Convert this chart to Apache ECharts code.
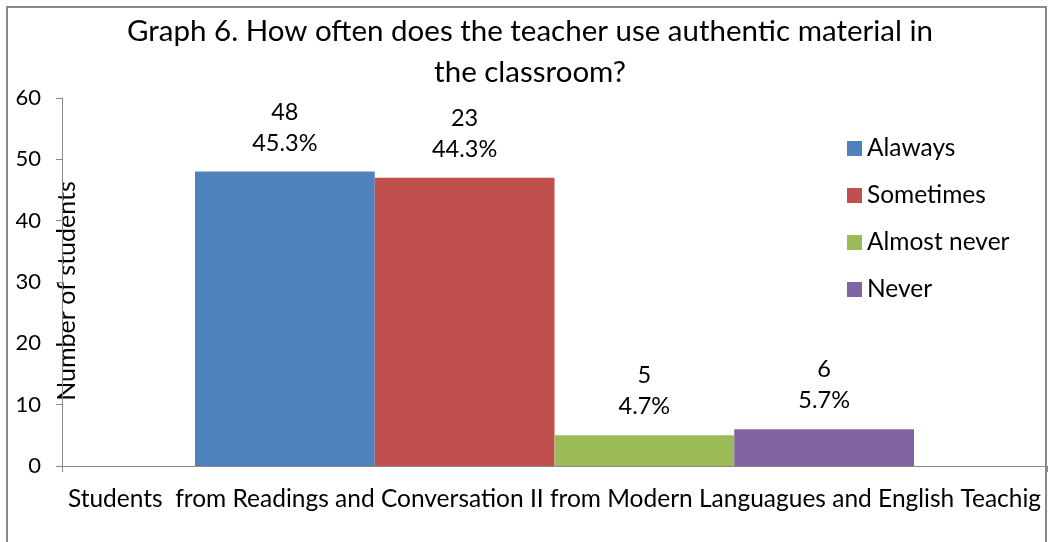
<!DOCTYPE html>
<html>
<head>
<meta charset="utf-8">
<script src="https://cdn.jsdelivr.net/npm/echarts@6/dist/echarts.min.js"></script>
<style>
html,body{margin:0;padding:0;background:#fff;}
#chart{width:1052px;height:542px;}
</style>
</head>
<body>
<div id="chart"></div>
<script>
const categories = ['Students  from Readings and Conversation II from Modern Languagues and English Teachig'];
const seriesNames = ['Alaways', 'Sometimes', 'Almost never', 'Never'];
const barValues = [48, 47, 5, 6];
const countLabels = ['48', '23', '5', '6'];
const percentLabels = ['45.3%', '44.3%', '4.7%', '5.7%'];
const colors = ['#4F81BD', '#C0504D', '#9BBB59', '#8064A2'];
const yTicks = { min: 0, max: 60, interval: 10 };

const FONT = 'Lato';
const chart = echarts.init(document.getElementById('chart'));

const series = seriesNames.map((name, i) => ({
  name: name,
  type: 'bar',
  data: [barValues[i]],
  barGap: '0%',
  barCategoryGap: '27%',
  itemStyle: { color: colors[i] },
  label: {
    show: true,
    position: 'top',
    distance: 13,
    formatter: () => countLabels[i] + '\n' + percentLabels[i],
    fontFamily: FONT,
    fontSize: 23.5,
    lineHeight: 31,
    color: '#000'
  }
}));

chart.setOption({
  animation: false,
  backgroundColor: '#fff',
  color: colors,
  title: {
    text: 'Graph 6. How often does the teacher use authentic material in\nthe classroom?',
    left: 525,
    textAlign: 'center',
    top: 6,
    textStyle: { fontFamily: FONT, fontSize: 29.5, fontWeight: 'normal', color: '#000', lineHeight: 41 }
  },
  legend: {
    orient: 'vertical',
    left: 847,
    top: 136,
    padding: 0,
    itemWidth: 15,
    itemHeight: 15,
    itemGap: 22,
    icon: 'rect',
    textStyle: { fontFamily: FONT, fontSize: 24.5, lineHeight: 20, color: '#000', padding: [0, 0, 0, 0] },
    data: seriesNames
  },
  grid: { left: 62, right: 5, top: 98, bottom: 76, containLabel: false, outerBoundsMode: 'none' },
  xAxis: {
    type: 'category',
    data: categories,
    axisLine: { lineStyle: { color: '#888', width: 1 } },
    axisTick: { show: true, length: 6, lineStyle: { color: '#888' }, alignWithLabel: false },
    axisLabel: { fontFamily: FONT, fontSize: 24.5, color: '#000', margin: 21 }
  },
  yAxis: {
    type: 'value',
    min: yTicks.min,
    max: yTicks.max,
    interval: yTicks.interval,
    name: 'Number of students',
    nameLocation: 'middle',
    nameMoveOverlap: false,
    nameGap: -17,
    nameRotate: 90,
    nameTextStyle: { fontFamily: FONT, fontSize: 25, color: '#000', padding: [0, 18, 0, 0] },
    axisLine: { show: true, lineStyle: { color: '#888', width: 1 } },
    axisTick: { show: true, length: 6, lineStyle: { color: '#888' } },
    splitLine: { show: false },
    axisLabel: { fontFamily: FONT, fontSize: 22, color: '#000', margin: 21 }
  },
  graphic: [{
    type: 'rect',
    shape: { x: 7, y: 7, width: 1039, height: 560 },
    style: { fill: 'none', stroke: '#8a8a8a', lineWidth: 2 },
    silent: true,
    z: -1
  }],
  series: series
});
</script>
</body>
</html>
